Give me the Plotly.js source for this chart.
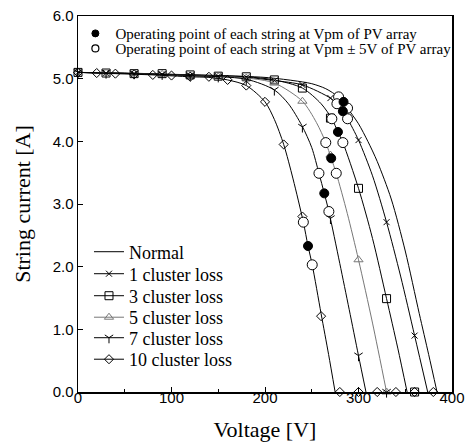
<!DOCTYPE html>
<html><head><meta charset="utf-8">
<script src="https://cdn.plot.ly/plotly-3.0.1.min.js"></script>
<style>html,body{margin:0;padding:0;background:#fff}#chart{width:473px;height:444px}</style>
</head><body><div id="chart"></div>
<script>
// ---- curve data (voltage V, string current A) ----
const normalV = [0,50,100,150,200,230,250,265,278.7,284,288.3,300,310,320,335,350,365,375,384];
const normalI = [5.1,5.09,5.07,5.05,5.02,4.97,4.92,4.84,4.71,4.63,4.53,4.28,4.0,3.68,3.08,2.25,1.25,0.6,0];

const loss1V = [0,60,120,180,210,240,270,276.9,283.3,288.3,300,315,330,345,360,374];
const loss1I = [5.1,5.08,5.05,5.02,4.97,4.9,4.69,4.6,4.48,4.36,4.02,3.45,2.71,1.85,0.9,0];
const loss1MkV = [0,30,60,90,120,150,180,210,240,270,300,330,360];
const loss1MkI = [5.1,5.09,5.08,5.07,5.05,5.04,5.02,4.97,4.9,4.69,4.02,2.71,0.9];

const loss3V = [0,60,120,180,210,240,260,271.5,278,283.3,300,315,330,342,352];
const loss3I = [5.1,5.08,5.06,5.03,4.98,4.85,4.6,4.36,4.15,3.98,3.25,2.45,1.49,0.7,0];
const loss3MkV = [0,30,60,90,120,150,180,210,240,270,300,330,360];
const loss3MkI = [5.1,5.09,5.08,5.08,5.06,5.04,5.03,4.98,4.85,4.37,3.25,1.49,0];

const loss5V = [0,60,120,180,210,240,255,265,270.8,276.2,288,300,315,330];
const loss5I = [5.1,5.08,5.05,5.01,4.93,4.64,4.3,3.98,3.73,3.49,2.85,2.11,1.1,0];
const loss5MkV = [0,30,60,90,120,150,180,210,240,270,300,330];
const loss5MkI = [5.1,5.09,5.08,5.07,5.05,5.03,5.01,4.93,4.64,3.78,2.11,0];

const loss7V = [0,60,120,180,210,225,239.5,250,257.7,263.4,268.3,280,290,300,308];
const loss7I = [5.1,5.08,5.05,4.99,4.82,4.6,4.25,3.9,3.49,3.17,2.88,2.05,1.32,0.58,0];
const loss7MkV = [0,30,60,90,120,150,180,210,240,270,300,330];
const loss7MkI = [5.1,5.09,5.08,5.07,5.05,5.03,4.99,4.82,4.23,2.77,0.58,0];

const loss10V = [0,40,80,120,140,160,180,200,210,220,230,241,246,250.5,260,268,275];
const loss10I = [5.1,5.08,5.06,5.03,5.02,4.98,4.89,4.63,4.35,3.95,3.4,2.71,2.33,2.03,1.25,0.6,0];
const loss10MkV = [0,20,40,60,80,100,120,140,160,180,200,220,240,260,280,300,320,340,360,380];
const loss10MkI = [5.1,5.09,5.08,5.07,5.06,5.05,5.03,5.03,4.98,4.89,4.63,3.95,2.8,1.21,0,0,0,0,0,0];

// operating points
const vpmV = [284,283.3,278,270.8,263.4,246];
const vpmI = [4.63,4.48,4.15,3.73,3.17,2.33];
const vpm5V = [278.7,288.3,276.9,288.3,271.5,283.3,265,276.2,257.7,268.3,241,250.5];
const vpm5I = [4.71,4.53,4.6,4.36,4.36,3.98,3.98,3.49,3.49,2.88,2.71,2.03];

const seriesNames = ['Normal','1 cluster loss','3 cluster loss','5 cluster loss','7 cluster loss','10 cluster loss'];
const opNames = ['Operating point of each string at Vpm of PV array','Operating point of each string at Vpm \u00b1 5V of PV array'];
const xTicks = [0,100,200,300,400];
const yTicks = [0,1,2,3,4,5,6];

// ---- styling ----
const series = [
  {v:normalV, i:normalI, mv:null, mi:null, sym:null, col:'#000', size:0},
  {v:loss1V, i:loss1I, mv:loss1MkV, mi:loss1MkI, sym:'x-thin-open', col:'#000', size:6},
  {v:loss3V, i:loss3I, mv:loss3MkV, mi:loss3MkI, sym:'square-open', col:'#000', size:8},
  {v:loss5V, i:loss5I, mv:loss5MkV, mi:loss5MkI, sym:'triangle-up-open', col:'#777', size:8},
  {v:loss7V, i:loss7I, mv:loss7MkV, mi:loss7MkI, sym:'y-down-open', col:'#000', size:7},
  {v:loss10V, i:loss10I, mv:loss10MkV, mi:loss10MkI, sym:'diamond-open', col:'#000', size:7}
];
const serif = 'Liberation Serif, Times New Roman, serif';
const sans = 'Liberation Sans, Arial, sans-serif';

const traces = [];
const legends = {};
// bottom-left legend rows (one legend per row for exact spacing)
const rowTops = [0.4215, 0.363, 0.3045, 0.2473, 0.1928, 0.1356];
series.forEach((s, k) => {
  traces.push({x:s.v, y:s.i, mode:'lines', line:{color:s.col, width:1, shape:'spline', smoothing:0.8}, showlegend:false, hoverinfo:'skip'});
  const mk = s.mv ? {symbol:s.sym, size:s.size, color:s.col, line:{color:s.col, width:1}} : {size:1};
  if (s.mv) traces.push({x:s.mv, y:s.mi, mode:'markers', marker:mk, showlegend:false, cliponaxis:false});
  const lg = 'legend' + (k + 3);
  traces.push({x:[null], y:[null], mode: s.mv ? 'lines+markers' : 'lines', name:seriesNames[k],
    line:{color:s.col, width:1}, marker:mk, legend:lg});
  legends[lg] = {x:0.0294, y:rowTops[k], xanchor:'left', yanchor:'top', bgcolor:'rgba(0,0,0,0)',
    font:{family:serif, size:18, color:'#000'}, itemwidth:30};
});
traces.push({x:vpm5V, y:vpm5I, mode:'markers', marker:{symbol:'circle', size:10, color:'#fff', line:{color:'#000', width:1}}, showlegend:false, cliponaxis:false});
traces.push({x:vpmV, y:vpmI, mode:'markers', marker:{symbol:'circle', size:9, color:'#000', line:{color:'#000', width:1}}, showlegend:false, cliponaxis:false});
traces.push({x:[null], y:[null], mode:'markers', name:opNames[0], marker:{symbol:'circle', size:7, color:'#000', line:{color:'#000', width:1}}, legend:'legend'});
traces.push({x:[null], y:[null], mode:'markers', name:opNames[1], marker:{symbol:'circle', size:7, color:'#fff', line:{color:'#000', width:1.2}}, legend:'legend2'});

const layout = Object.assign({
  width:473, height:444,
  margin:{l:77.5, r:21, t:16, b:52},
  paper_bgcolor:'#fff', plot_bgcolor:'#fff',
  showlegend:true,
  xaxis:{range:[0,400], tickvals:xTicks, ticktext:xTicks.map(String), ticks:'inside', ticklen:5, tickcolor:'#000', tickwidth:1,
    minor:{dtick:50, ticks:'inside', ticklen:3, tickcolor:'#000', tickwidth:1, showgrid:false},
    showline:true, linecolor:'#000', linewidth:1.5, mirror:true, showgrid:false, zeroline:false,
    tickfont:{family:sans, size:15, color:'#000'}, ticklabelstandoff:-9,
    title:{text:'Voltage [V]', font:{family:serif, size:22, color:'#000'}, standoff:17}},
  yaxis:{range:[0,6], tickvals:yTicks, ticktext:yTicks.map(v=>v.toFixed(1)), ticks:'inside', ticklen:5, tickcolor:'#000', tickwidth:1,
    showline:true, linecolor:'#000', linewidth:1.5, mirror:true, showgrid:false, zeroline:false,
    tickfont:{family:sans, size:15, color:'#000'},
    title:{text:'String current [A]', font:{family:serif, size:22, color:'#000'}, standoff:16}},
  legend:{x:-0.007, y:0.997, xanchor:'left', yanchor:'top', bgcolor:'rgba(0,0,0,0)', font:{family:serif, size:15, color:'#000'}, itemwidth:30},
  legend2:{x:-0.007, y:0.957, xanchor:'left', yanchor:'top', bgcolor:'rgba(0,0,0,0)', font:{family:serif, size:15, color:'#000'}, itemwidth:30}
}, legends);
Plotly.newPlot('chart', traces, layout, {staticPlot:true, displayModeBar:false});
</script>
</body></html>
